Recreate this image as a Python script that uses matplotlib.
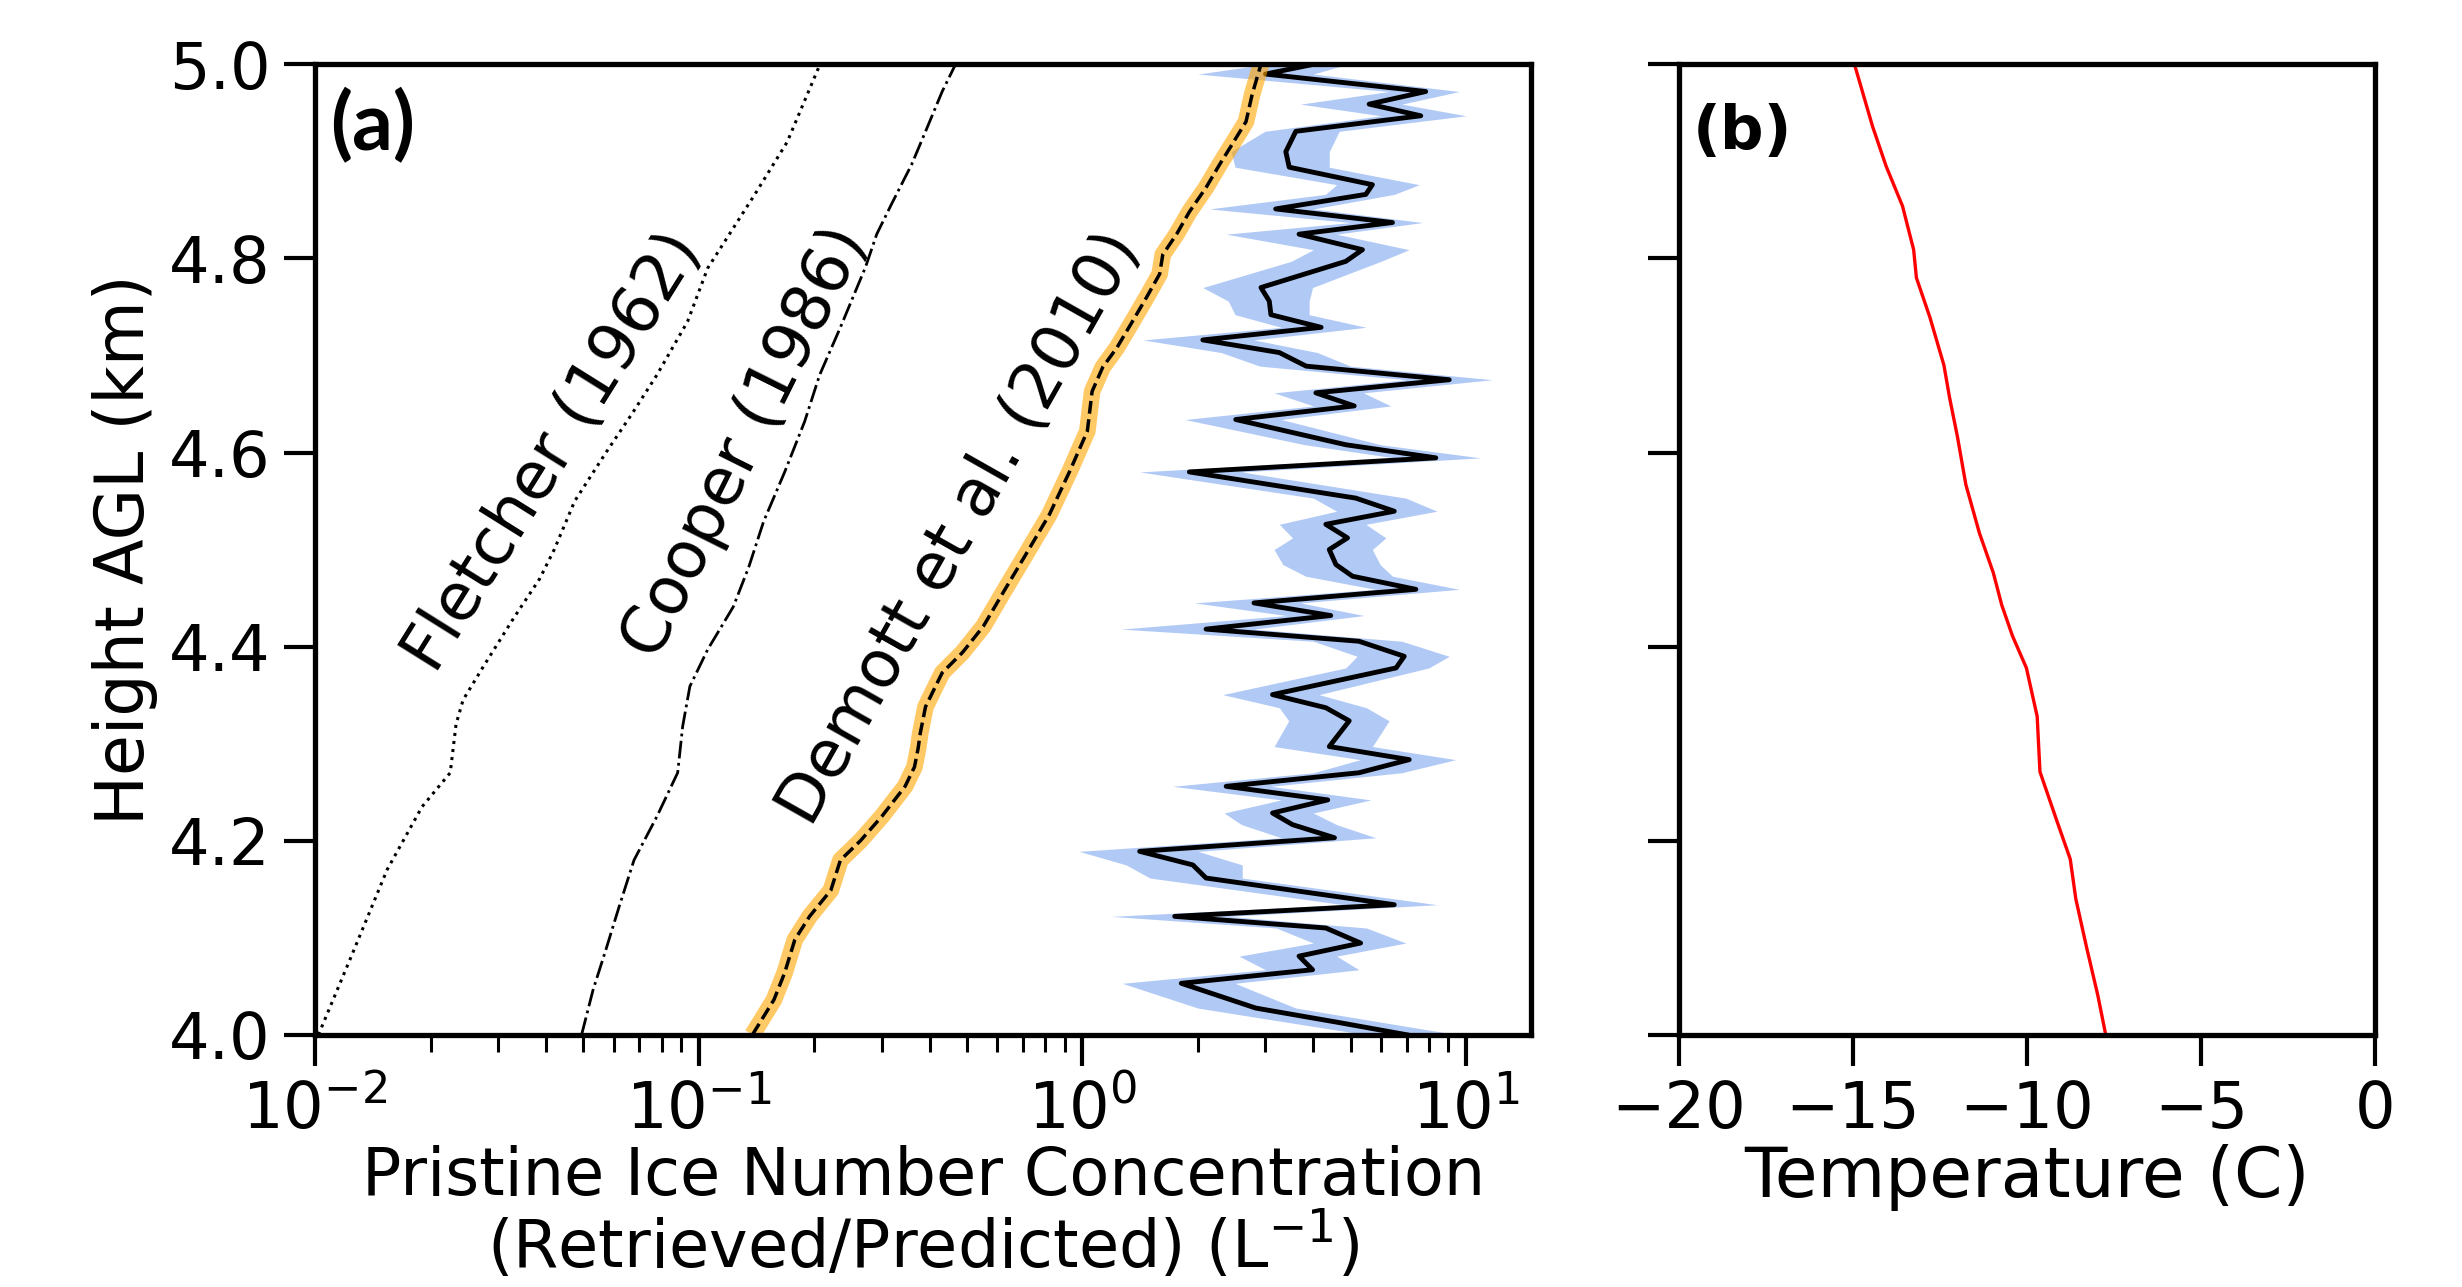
import matplotlib.pyplot as plt
import numpy as np

# heights (km) for the model curves in panel (a)
fletcher_h = [4.00, 4.08, 4.17, 4.235, 4.27, 4.32, 4.345, 4.38, 4.43, 4.47, 4.50,
              4.55, 4.60, 4.64, 4.68, 4.735, 4.79, 4.866, 4.92, 5.00]
fletcher_n = [0.0102, 0.0124, 0.0154, 0.019, 0.0225, 0.0233, 0.0243, 0.0275, 0.033, 0.0385, 0.042,
              0.0475, 0.0573, 0.067, 0.0778, 0.0935, 0.1055, 0.140, 0.1700, 0.207]

cooper_h = [4.00, 4.046, 4.088, 4.132, 4.18, 4.225, 4.27, 4.318, 4.359, 4.397, 4.441, 4.482,
            4.529, 4.58, 4.632, 4.68, 4.729, 4.791, 4.825, 4.856, 4.897, 4.935, 4.972, 5.00]
cooper_n = [0.0495, 0.053, 0.0573, 0.062, 0.0678, 0.0778, 0.0881, 0.0908, 0.0948, 0.1055, 0.123, 0.135,
            0.1476, 0.1675, 0.1888, 0.2066, 0.234, 0.272, 0.291, 0.318, 0.359, 0.394, 0.431, 0.467]

demott_h = [4.00, 4.036, 4.064, 4.098, 4.122, 4.149, 4.18, 4.20, 4.225, 4.256, 4.276, 4.295, 4.311,
            4.338, 4.373, 4.394, 4.421, 4.456, 4.49, 4.536, 4.58, 4.622, 4.663, 4.688, 4.708,
            4.735, 4.76, 4.784, 4.804, 4.825, 4.848, 4.873, 4.897, 4.918, 4.941, 4.969, 5.00]
demott_n = [0.138, 0.157, 0.1675, 0.178, 0.1945, 0.221, 0.234, 0.264, 0.30, 0.345, 0.365, 0.373, 0.378,
            0.39, 0.431, 0.487, 0.552, 0.622, 0.70, 0.82, 0.925, 1.03, 1.06, 1.13, 1.23,
            1.35, 1.47, 1.59, 1.62, 1.76, 1.90, 2.10, 2.28, 2.46, 2.67, 2.77, 2.92]

# retrieved concentration: height, value, lower and upper bound
ret_h = [5.000, 4.990, 4.972, 4.959, 4.947, 4.931, 4.910, 4.894, 4.876, 4.866, 4.851, 4.837,
         4.825, 4.809, 4.797, 4.770, 4.756, 4.742, 4.729, 4.716, 4.703, 4.689, 4.675, 4.6615,
         4.648, 4.634, 4.608, 4.5945, 4.580, 4.553, 4.5395, 4.526, 4.512, 4.500, 4.4845, 4.4725,
         4.459, 4.445, 4.432, 4.418, 4.4055, 4.390, 4.378, 4.3505, 4.337, 4.3235, 4.297, 4.2835,
         4.270, 4.256, 4.242, 4.2285, 4.2165, 4.203, 4.189, 4.175, 4.1615, 4.134, 4.122, 4.110,
         4.0945, 4.081, 4.067, 4.053, 4.0275, 4.013, 4.000]
ret_n = [4.0, 3.0, 7.85, 5.59, 7.62, 3.60, 3.39, 3.46, 5.70, 5.48, 3.19, 6.43,
         3.67, 5.37, 4.86, 2.92, 3.07, 3.10, 4.19, 2.06, 3.26, 3.83, 9.04, 4.06,
         5.11, 2.51, 4.86, 8.34, 1.90, 5.16, 6.50, 4.31, 4.91, 4.40, 4.58, 5.06,
         7.40, 2.80, 4.44, 2.10, 5.26, 6.90, 6.57, 3.13, 4.31, 4.96, 4.40, 7.11,
         5.26, 2.37, 4.36, 3.13, 3.53, 4.54, 1.41, 1.94, 2.10, 6.50, 1.74, 4.31,
         5.31, 3.67, 3.98, 1.81, 2.83, 4.6, 7.0]
ret_lo = [3.0, 2.0, 6.3, 3.7, 6.0, 2.99, 2.44, 2.5, 4.6, 4.3, 2.14, 5.0,
          2.37, 4.0, 3.5, 2.06, 2.4, 2.5, 3.3, 1.44, 2.3, 2.9, 7.0, 3.16,
          4.0, 1.85, 3.8, 6.5, 1.41, 4.0, 4.6, 3.26, 3.53, 3.16, 3.33, 3.82,
          5.8, 1.96, 3.4, 1.26, 4.0, 5.2, 4.86, 2.32, 3.26, 3.45, 3.16, 5.3,
          4.0, 1.72, 3.3, 2.34, 2.6, 3.3, 0.98, 1.3, 1.5, 4.8, 1.19, 3.2,
          4.0, 2.56, 3.0, 1.27, 2.0, 3.4, 5.5]
ret_hi = [4.9, 4.0, 9.6, 6.8, 10.0, 4.67, 4.40, 4.4, 7.55, 6.5, 4.0, 7.70,
          4.6, 7.10, 6.0, 3.98, 3.9, 3.9, 5.49, 2.8, 4.1, 5.0, 11.7, 5.4,
          6.37, 3.3, 6.0, 10.9, 2.6, 6.97, 8.4, 5.48, 6.18, 5.70, 5.97, 6.43,
          9.6, 3.7, 5.42, 2.8, 6.8, 9.04, 8.0, 4.14, 5.5, 6.3, 5.70, 9.4,
          6.8, 3.1, 5.65, 4.0, 4.6, 5.82, 2.0, 2.61, 2.61, 8.41, 2.4, 5.5,
          6.97, 4.6, 5.26, 2.5, 3.6, 6.0, 9.5]

# temperature profile for panel (b)
temp_h = [5.0, 4.936, 4.895, 4.854, 4.809, 4.780, 4.739, 4.690, 4.657, 4.616, 4.567, 4.517,
          4.476, 4.443, 4.411, 4.378, 4.328, 4.271, 4.222, 4.181, 4.140, 4.090, 4.041, 4.0]
temp_c = [-14.96, -14.44, -14.05, -13.58, -13.26, -13.18, -12.79, -12.39, -12.23, -12.00, -11.76, -11.37,
          -10.97, -10.73, -10.42, -10.02, -9.71, -9.63, -9.16, -8.76, -8.60, -8.29, -7.97, -7.74]

label_names = ['Fletcher (1962)', 'Cooper (1986)', 'Demott et al. (2010)']

plt.rcParams['font.family'] = 'DejaVu Sans'
plt.rcParams['font.size'] = 46
plt.rcParams['axes.linewidth'] = 3.8

fig = plt.figure(figsize=(24.62, 12.87), dpi=100)
ax1 = fig.add_axes([0.128, 0.196, 0.494, 0.754])
ax2 = fig.add_axes([0.682, 0.196, 0.2827, 0.754])

# panel (a)
ax1.fill_betweenx(ret_h, ret_lo, ret_hi, color='cornflowerblue', alpha=0.5, lw=0)
ax1.plot(ret_n, ret_h, color='k', lw=3.5)
ax1.plot(fletcher_n, fletcher_h, 'k:', lw=2.2)
ax1.plot(cooper_n, cooper_h, 'k-.', lw=2.0)
ax1.plot(demott_n, demott_h, color='orange', lw=12, alpha=0.6, solid_capstyle='butt')
ax1.plot(demott_n, demott_h, 'k--', lw=2.5)

ax1.set_xscale('log')
ax1.set_xlim(0.01, 14.8)
ax1.set_ylim(4.0, 5.0)
ax1.set_yticks([4.0, 4.2, 4.4, 4.6, 4.8, 5.0])
ax1.set_yticklabels(['4.0', '4.2', '4.4', '4.6', '4.8', '5.0'])
ax1.tick_params(which='major', length=22, width=3, pad=10)
ax1.tick_params(which='minor', length=12, width=2.2)
ax1.set_ylabel('Height AGL (km)', labelpad=8, fontsize=48)
ax1.set_xlabel('Pristine Ice Number Concentration\n(Retrieved/Predicted) (L$^{-1}$)',
               linespacing=1.0, labelpad=2, fontsize=47)

ax1.text(0.0417, 4.600, label_names[0], rotation=58, ha='center', va='center', fontsize=47)
ax1.text(0.1324, 4.610, label_names[1], rotation=63.5, ha='center', va='center', fontsize=47)
ax1.text(0.481, 4.521, label_names[2], rotation=60.5, ha='center', va='center', fontsize=47)
ax1.text(0.012, 0.975, '(a)', transform=ax1.transAxes, ha='left', va='top',
         fontsize=58, fontweight='bold', family='Lato')

# panel (b)
ax2.plot(temp_c, temp_h, color='red', lw=2.4)
ax2.set_xlim(-20, 0)
ax2.set_ylim(4.0, 5.0)
ax2.set_xticks([-20, -15, -10, -5, 0])
ax2.set_yticks([4.0, 4.2, 4.4, 4.6, 4.8, 5.0])
ax2.set_yticklabels([])
ax2.tick_params(which='major', length=22, width=3, pad=10)
ax2.set_xlabel('Temperature (C)', labelpad=2, fontsize=50)
ax2.text(0.02, 0.96, '(b)', transform=ax2.transAxes, ha='left', va='top',
         fontsize=44, fontweight='bold')

fig.savefig('out.png', dpi=100)
